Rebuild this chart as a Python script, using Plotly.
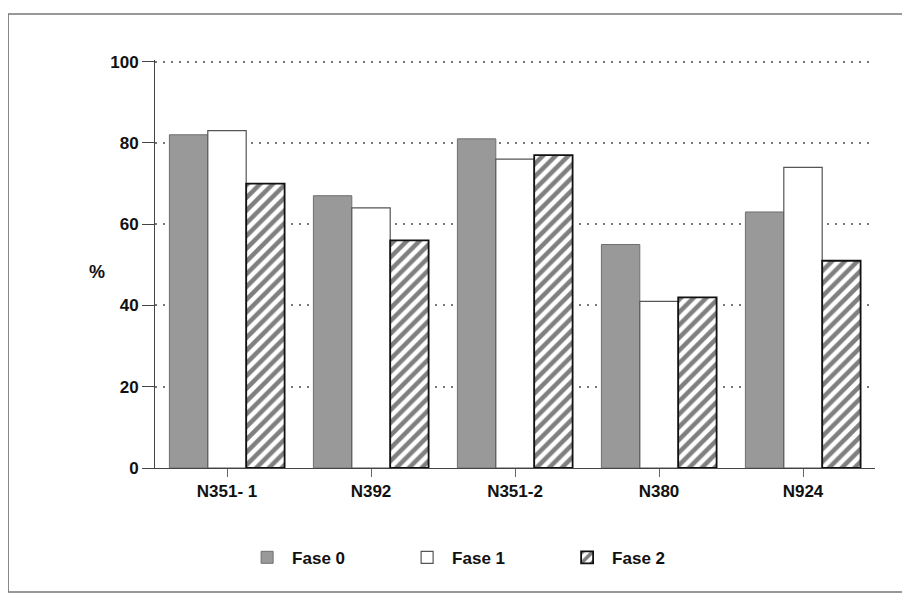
import plotly.graph_objects as go

categories = ["N351- 1", "N392", "N351-2", "N380", "N924"]
fase0 = [82, 67, 81, 55, 63]
fase1 = [83, 64, 76, 41, 74]
fase2 = [70, 56, 77, 42, 51]
series_names = ["Fase 0", "Fase 1", "Fase 2"]
y_ticks = [0, 20, 40, 60, 80, 100]

FONT = "Liberation Sans, Arial, sans-serif"

fig = go.Figure()
fig.add_trace(go.Bar(
    x=categories, y=fase0, name=series_names[0],
    marker=dict(color="#999999", line=dict(color="#6f6f6f", width=1)),
))
fig.add_trace(go.Bar(
    x=categories, y=fase1, name=series_names[1],
    marker=dict(color="#ffffff", line=dict(color="#555555", width=1.2)),
))
fig.add_trace(go.Bar(
    x=categories, y=fase2, name=series_names[2],
    marker=dict(color="#ffffff",
                pattern=dict(shape="/", fgcolor="#000000", bgcolor="#ffffff", size=9, solidity=0.5),
                line=dict(color="#111111", width=1.8)),
))

fig.update_layout(
    width=910, height=605,
    margin=dict(l=147, r=43, t=52, b=145),
    paper_bgcolor="#ffffff", plot_bgcolor="#ffffff",
    barmode="group", bargap=0.2, bargroupgap=0,
    font=dict(family=FONT, size=17, color="#111111"),
    showlegend=True,
    legend=dict(orientation="h", x=0.121, xanchor="left", y=-0.22, yanchor="middle",
                font=dict(family=FONT, size=17, color="#111111", weight="bold"),
                itemwidth=40, traceorder="normal", entrywidth=105),
    xaxis=dict(showline=True, linecolor="#444444", linewidth=1, ticks="outside",
               ticklen=8, tickcolor="#666666",
               tickfont=dict(family=FONT, size=17, color="#111111", weight="bold"),
               showgrid=False),
    yaxis=dict(range=[0, 100.4], tickvals=y_ticks, showline=True, linecolor="#444444",
               linewidth=1, ticks="outside", ticklen=12, tickcolor="#444444",
               tickfont=dict(family=FONT, size=17, color="#111111", weight="bold"),
               showgrid=True, gridcolor="#777777", griddash="2px,6px", gridwidth=1.5,
               zeroline=False),
    annotations=[dict(text="<b>%</b>", x=-0.094, y=0.48, xref="paper", yref="paper",
                      showarrow=False, font=dict(family=FONT, size=18, color="#111111"))],
    shapes=[dict(type="rect", xref="paper", yref="paper", x0=-0.204, x1=1.039,
                 y0=-0.304, y1=1.113, line=dict(color="#777777", width=1.5))],
)

fig.write_html("out.html")
